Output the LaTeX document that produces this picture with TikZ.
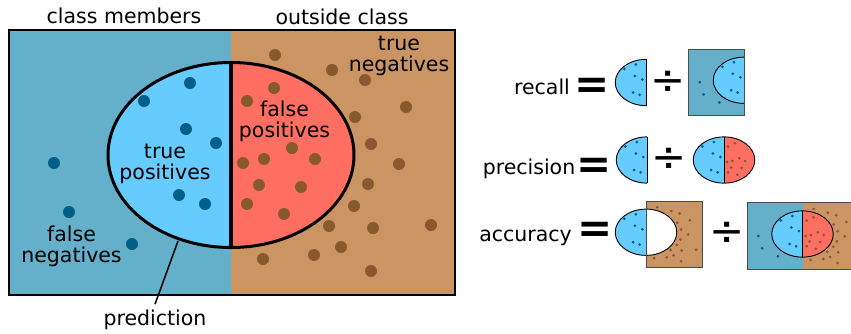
\documentclass[tikz,border=0pt]{standalone}
\usepackage{fontspec}
\setmainfont{DejaVu Sans}
\usetikzlibrary{positioning}
\definecolor{memberblue}{RGB}{100,176,203}
\definecolor{outsidebrown}{RGB}{203,148,99}
\definecolor{tplight}{RGB}{102,204,255}
\definecolor{fpred}{RGB}{255,111,97}
\definecolor{tpdotc}{RGB}{0,95,135}
\definecolor{tndotc}{RGB}{136,88,46}

% regions of the big panel (pixel units, y down)
\newcommand{\leftbox}{(9,30) rectangle (231,295)}
\newcommand{\rightbox}{(231,30) rectangle (455,295)}
\newcommand{\predellipse}{(231,155) ellipse[x radius=123,y radius=92.5]}
\newcommand{\predmid}{(231,62.5) -- (231,247.5)}

% dot sets
\newcommand{\dotsTP}{\foreach \x/\y in {190/83,144/101,186/129,216/143,179/195,205/204}
  \fill[tpdot] (\x,\y) circle[radius=6];}
\newcommand{\dotsFN}{\foreach \x/\y in {54/163,69/212,132/244}
  \fill[tpdot] (\x,\y) circle[radius=6];}
\newcommand{\dotsFP}{\foreach \x/\y in {274/88,247/101,292/148,243/163,264/159,315/159,259/185,301/187,247/204,284/214}
  \fill[tndot] (\x,\y) circle[radius=6];}
\newcommand{\dotsTN}{\foreach \x/\y in {275/55,332/70,365/80,406/107,355/117,371/144,399/164,368/184,354/206,329/226,373/228,431/225,341/247,314/255,263/259,371/271}
  \fill[tndot] (\x,\y) circle[radius=6];}

\newcommand{\eqsign}{\fontsize{42}{42}\selectfont\bfseries =}
\newcommand{\divsign}{\fontsize{42}{42}\selectfont \char"00F7}

\tikzset{
  membg/.style={fill=memberblue},
  outbg/.style={fill=outsidebrown},
  tpdot/.style={fill=tpdotc},
  tndot/.style={fill=tndotc},
  lbl/.style={font=\fontsize{20.5}{21}\selectfont, inner sep=0pt},
  miniline/.style={line width=0.9pt},
  boxline/.style={line width=1pt, draw=black!70},
  mini/.style 2 args={shift={(#1,#2)},scale=0.25,shift={(-231,-155)}}
}

\begin{document}
\begin{tikzpicture}[x=1pt,y=-1pt]
  \useasboundingbox (0,0) rectangle (851,333);
  \clip (0,0) rectangle (851,333);

  % big panel
  \fill[membg] \leftbox;
  \fill[outbg] \rightbox;
  \begin{scope}
    \clip \leftbox;
    \fill[tplight] \predellipse;
  \end{scope}
  \begin{scope}
    \clip \rightbox;
    \fill[fpred] \predellipse;
  \end{scope}
  \dotsTP \dotsFN \dotsFP \dotsTN
  \draw[line width=3pt] \predellipse;
  \draw[line width=4pt] \predmid;
  \draw[line width=1.5pt] (9,30) rectangle (455,295);

  \node[lbl, anchor=base] (members) at (124,23) {class members};
  \node[lbl, anchor=base] (outside) at (342,24) {outside class};
  \node[lbl, anchor=base, align=center] (tn) at (399,71) {true\\negatives};
  \node[lbl, anchor=base, align=center] (fp) at (284.5,137.5) {false\\positives};
  \node[lbl, anchor=base, align=center] (tp) at (165,179.5) {true\\positives};
  \node[lbl, anchor=base, align=center] (fn) at (71.5,262.5) {false\\negatives};
  \node[lbl, anchor=base, inner sep=5pt] (pred) at (155,325) {prediction};
  \coordinate (predtip) at (178,241);
  \draw[line width=1.5pt] (predtip) -- (pred.north);

  % recall row
  \node[lbl, anchor=base] (recall) at (542,94) {recall};
  \node[lbl] (eqrecall) at (592,88) {\eqsign};
  \begin{scope}[mini={646}{82.5}]
    \begin{scope}
      \clip \leftbox;
      \fill[tplight] \predellipse;
      \draw[miniline] \predellipse;
    \end{scope}
    \dotsTP
    \draw[miniline] \predmid;
  \end{scope}
  \node[lbl] (divrecall) at (668.5,83) {\divsign};
  \begin{scope}[mini={744}{80.25}]
    \fill[membg] \leftbox;
    \begin{scope}
      \clip \leftbox;
      \fill[tplight] \predellipse;
      \draw[miniline] \predellipse;
    \end{scope}
    \dotsTP \dotsFN
    \draw[boxline] \leftbox;
  \end{scope}

  % precision row
  \node[lbl, anchor=base] (precision) at (529,174.3) {precision};
  \node[lbl] (eqprecision) at (594,168) {\eqsign};
  \begin{scope}[mini={647}{160}]
    \begin{scope}
      \clip \leftbox;
      \fill[tplight] \predellipse;
      \draw[miniline] \predellipse;
    \end{scope}
    \dotsTP
    \draw[miniline] \predmid;
  \end{scope}
  \node[lbl] (divprecision) at (668.7,160) {\divsign};
  \begin{scope}[mini={724}{160}]
    \begin{scope}
      \clip \leftbox;
      \fill[tplight] \predellipse;
    \end{scope}
    \begin{scope}
      \clip \rightbox;
      \fill[fpred] \predellipse;
    \end{scope}
    \dotsTP \dotsFP
    \draw[miniline] \predellipse;
    \draw[miniline] \predmid;
  \end{scope}

  % accuracy row
  \node[lbl, anchor=base] (accuracy) at (525.5,241.5) {accuracy};
  \node[lbl] (eqaccuracy) at (595,232) {\eqsign};
  \begin{scope}[mini={646}{232.25}]
    \fill[outbg] \rightbox;
    \dotsTN
    \begin{scope}
      \clip \leftbox;
      \fill[tplight] \predellipse;
    \end{scope}
    \begin{scope}
      \clip \rightbox;
      \fill[white] \predellipse;
    \end{scope}
    \dotsTP
    \draw[miniline] \predellipse;
    \draw[boxline] \rightbox;
  \end{scope}
  \node[lbl] (divaccuracy) at (727,234) {\divsign};
  \begin{scope}[mini={802.5}{234}]
    \fill[membg] \leftbox;
    \fill[outbg] \rightbox;
    \begin{scope}
      \clip \leftbox;
      \fill[tplight] \predellipse;
    \end{scope}
    \begin{scope}
      \clip \rightbox;
      \fill[fpred] \predellipse;
    \end{scope}
    \dotsTP \dotsFN \dotsFP \dotsTN
    \draw[miniline] \predellipse;
    \draw[miniline] \predmid;
    \draw[boxline] (9,30) rectangle (455,295);
  \end{scope}
\end{tikzpicture}
\end{document}
